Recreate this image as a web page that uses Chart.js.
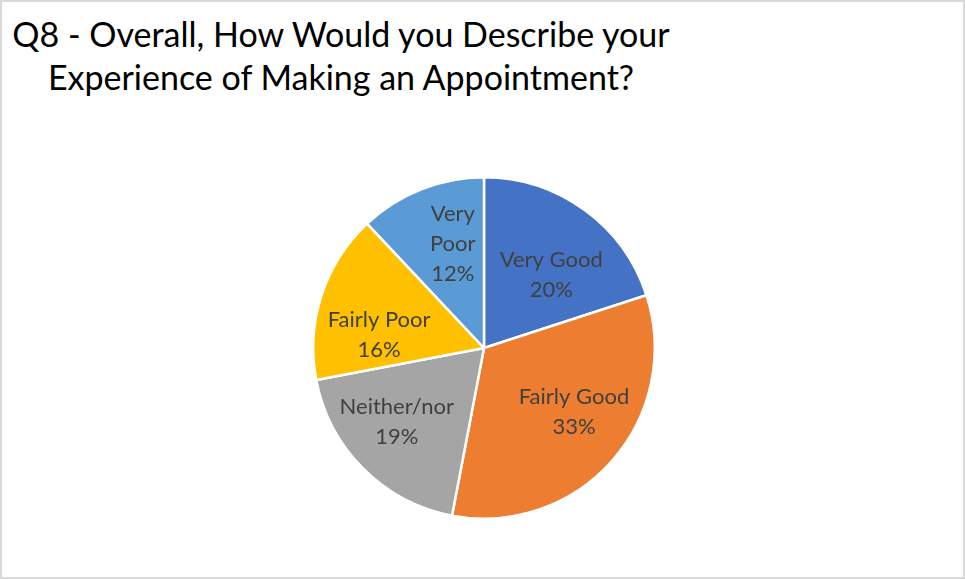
<!DOCTYPE html>
<html>
<head>
<meta charset="utf-8">
<script src="https://cdn.jsdelivr.net/npm/chart.js@4.4.0/dist/chart.umd.min.js"></script>
<style>
  html, body { margin: 0; padding: 0; background: #fff; }
  #wrap {
    position: relative;
    width: 965px;
    height: 579px;
    box-sizing: border-box;
    border: 2px solid #d9d9d9;
    overflow: hidden;
  }
  #title {
    position: absolute;
    left: 0;
    top: 10px;
    width: 678px;
    text-align: center;
    font-family: Lato, sans-serif;
    font-size: 34px;
    line-height: 43px;
    color: #000;
  }
  #pie { position: absolute; left: -2px; top: -2px; }
</style>
</head>
<body>
<div id="wrap">
  <div id="title">Q8 - Overall, How Would you Describe your<br>Experience of Making an Appointment?</div>
  <canvas id="pie" width="965" height="579"></canvas>
</div>
<script>
const categories = ["Very Good", "Fairly Good", "Neither/nor", "Fairly Poor", "Very Poor"];
const percents = [20, 33, 19, 16, 12];
const sliceColors = ["#4472C4", "#ED7D31", "#A5A5A5", "#FFC000", "#5B9BD5"];

// label text for a slice: category (split where it's narrow) then the percentage
function labelLines(i) {
    const name = categories[i] === "Very Poor" ? ["Very", "Poor"] : [categories[i]];
    return name.concat([percents[i] + "%"]);
}

// small per-slice shifts so the labels sit where the best-fit layout puts them
const labelNudge = [[3, 15], [8, -8], [-10, -3], [-1, 21], [9, -2]];

const sliceLabels = {
    id: "sliceLabels",
    afterDatasetsDraw(chart) {
        const ctx = chart.ctx;
        const arcs = chart.getDatasetMeta(0).data;
        ctx.save();
        ctx.font = "22px Lato, sans-serif";
        ctx.fillStyle = "#404040";
        ctx.textAlign = "center";
        ctx.textBaseline = "middle";
        arcs.forEach((arc, i) => {
            const mid = (arc.startAngle + arc.endAngle) / 2;
            const r = arc.outerRadius * 0.64;
            const x = arc.x + Math.cos(mid) * r + labelNudge[i][0];
            const y = arc.y + Math.sin(mid) * r + labelNudge[i][1];
            const lines = labelLines(i);
            const lh = 30;
            const top = y - (lines.length - 1) * lh / 2;
            lines.forEach((t, j) => ctx.fillText(t, x, top + j * lh));
        });
        ctx.restore();
    }
};

new Chart(document.getElementById("pie"), {
    type: "pie",
    data: {
        labels: categories,
        datasets: [{
            data: percents,
            backgroundColor: sliceColors,
            borderColor: "#ffffff",
            borderWidth: 2.5
        }]
    },
    options: {
        responsive: false,
        animation: false,
        layout: { padding: { top: 176, bottom: 59, left: 312, right: 309 } },
        plugins: {
            legend: { display: false },
            tooltip: { enabled: false }
        }
    },
    plugins: [sliceLabels]
});
</script>
</body>
</html>
